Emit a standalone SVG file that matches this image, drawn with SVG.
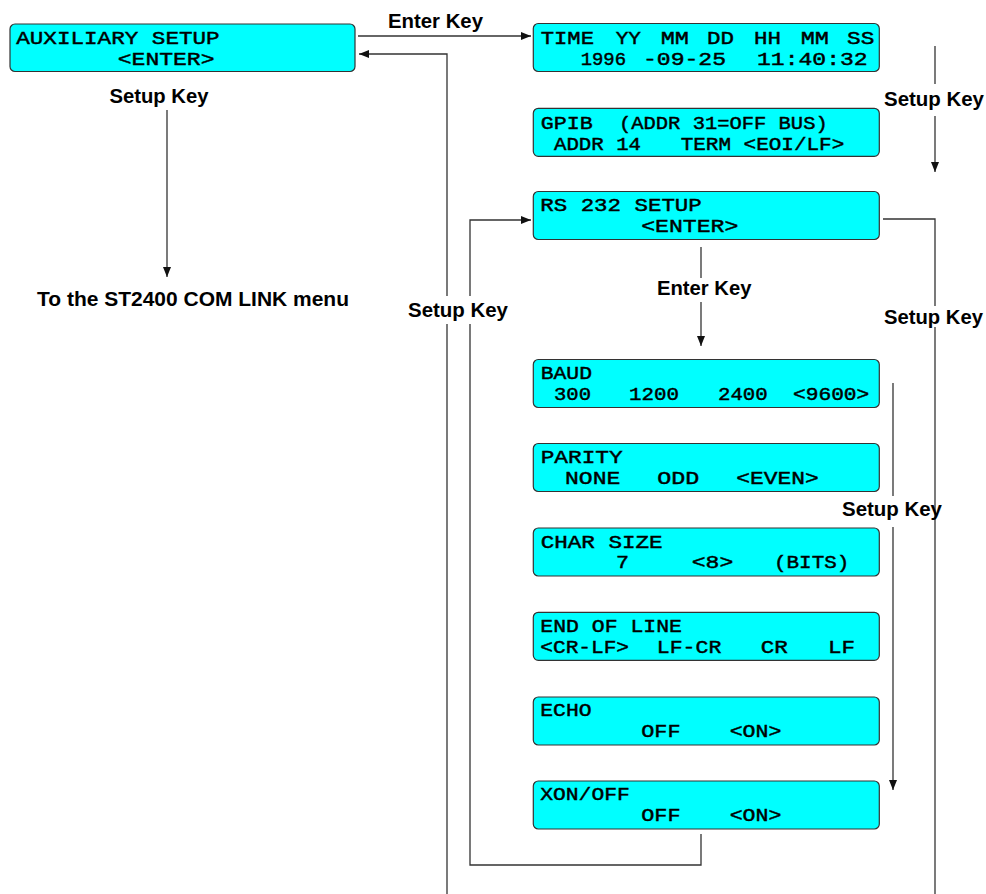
<svg xmlns="http://www.w3.org/2000/svg" width="986" height="894" viewBox="0 0 986 894">
<style>
.box{fill:#00ffff;stroke:#333;stroke-width:1.2}
.m{font-family:"Liberation Mono","Courier New",monospace;font-weight:normal;font-size:18.5px;fill:#000;stroke:#000;stroke-width:0.45}
.l{font-family:"Liberation Sans",Arial,sans-serif;font-weight:bold;font-size:20px;fill:#000}
.c{fill:none;stroke:#333;stroke-width:1.3}
</style>
<defs>
<marker id="ah" markerUnits="userSpaceOnUse" markerWidth="11" markerHeight="9" refX="10" refY="4" orient="auto">
<path d="M0,0 L10,4 L0,8 z" fill="#111"/>
</marker>
</defs>
<rect width="986" height="894" fill="#fff"/>
<g id="connectors">
<path class="c" d="M358,36 H531" marker-end="url(#ah)"/>
<path class="c" d="M447,894 V324"/>
<path class="c" d="M447,296 V54 H359" marker-end="url(#ah)"/>
<path class="c" d="M470,324 V865 H701 V834"/>
<path class="c" d="M470,296 V220 H531" marker-end="url(#ah)"/>
<path class="c" d="M167,110 V277" marker-end="url(#ah)"/>
<path class="c" d="M935,46 V84"/>
<path class="c" d="M935,116 V172" marker-end="url(#ah)"/>
<path class="c" d="M883,219 H935 V306"/>
<path class="c" d="M935,327 V894"/>
<path class="c" d="M701,247 V278"/>
<path class="c" d="M701,302 V346" marker-end="url(#ah)"/>
<path class="c" d="M893,383 V496"/>
<path class="c" d="M893,527 V790" marker-end="url(#ah)"/>
</g>
<g id="labels">
<text class="l" x="388" y="28" textLength="95" lengthAdjust="spacingAndGlyphs">Enter Key</text>
<text class="l" x="109.5" y="103" textLength="99" lengthAdjust="spacingAndGlyphs">Setup Key</text>
<text class="l" x="37" y="306" textLength="312" lengthAdjust="spacingAndGlyphs">To the ST2400 COM LINK menu</text>
<text class="l" x="884" y="106" textLength="100" lengthAdjust="spacingAndGlyphs">Setup Key</text>
<text class="l" x="408" y="317" textLength="100" lengthAdjust="spacingAndGlyphs">Setup Key</text>
<text class="l" x="657" y="295" textLength="94.5" lengthAdjust="spacingAndGlyphs">Enter Key</text>
<text class="l" x="884" y="324" textLength="99" lengthAdjust="spacingAndGlyphs">Setup Key</text>
<text class="l" x="842" y="516" textLength="100" lengthAdjust="spacingAndGlyphs">Setup Key</text>
</g>
<g id="aux">
<rect class="box" x="10" y="24" width="345" height="47.5" rx="5"/>
<text class="m" x="16.2" y="43.5" textLength="203.5" lengthAdjust="spacingAndGlyphs">AUXILIARY SETUP</text>
<text class="m" x="117.8" y="64.5" textLength="96.7" lengthAdjust="spacingAndGlyphs">&lt;ENTER&gt;</text>
</g>
<g id="time">
<rect class="box" x="533.3" y="23.5" width="346" height="48" rx="5"/>
<text class="m" x="540.7" y="44" textLength="53.3" lengthAdjust="spacingAndGlyphs">TIME</text>
<text class="m" x="615.7" y="44" textLength="25.3" lengthAdjust="spacingAndGlyphs">YY</text>
<text class="m" x="660.7" y="44" textLength="28.3" lengthAdjust="spacingAndGlyphs">MM</text>
<text class="m" x="707" y="44" textLength="27" lengthAdjust="spacingAndGlyphs">DD</text>
<text class="m" x="754" y="44" textLength="27" lengthAdjust="spacingAndGlyphs">HH</text>
<text class="m" x="800.7" y="44" textLength="28.3" lengthAdjust="spacingAndGlyphs">MM</text>
<text class="m" x="847" y="44" textLength="27.3" lengthAdjust="spacingAndGlyphs">SS</text>
<text class="m" x="580.7" y="65" textLength="45.3" lengthAdjust="spacingAndGlyphs">1996</text>
<text class="m" x="643" y="65" textLength="83" lengthAdjust="spacingAndGlyphs">-09-25</text>
<text class="m" x="757" y="65" textLength="110.7" lengthAdjust="spacingAndGlyphs">11:40:32</text>
</g>
<g id="gpib">
<rect class="box" x="533.3" y="108.3" width="346" height="48" rx="5"/>
<text class="m" x="540.7" y="129" textLength="52" lengthAdjust="spacingAndGlyphs">GPIB</text>
<text class="m" x="619" y="129" textLength="208.7" lengthAdjust="spacingAndGlyphs">(ADDR 31=OFF BUS)</text>
<text class="m" x="554" y="149.5" textLength="87" lengthAdjust="spacingAndGlyphs">ADDR 14</text>
<text class="m" x="680.7" y="149.5" textLength="163.6" lengthAdjust="spacingAndGlyphs">TERM &lt;EOI/LF&gt;</text>
</g>
<g id="rs232">
<rect class="box" x="533.3" y="191.5" width="346" height="48" rx="5"/>
<text class="m" x="540.3" y="211.3" textLength="161.5" lengthAdjust="spacingAndGlyphs">RS 232 SETUP</text>
<text class="m" x="641.2" y="231.7" textLength="97.2" lengthAdjust="spacingAndGlyphs">&lt;ENTER&gt;</text>
</g>
<g id="baud">
<rect class="box" x="533.3" y="359.5" width="346" height="48" rx="5"/>
<text class="m" x="540.7" y="379.3" textLength="51.3" lengthAdjust="spacingAndGlyphs">BAUD</text>
<text class="m" x="554" y="400" textLength="37" lengthAdjust="spacingAndGlyphs">300</text>
<text class="m" x="629" y="400" textLength="50" lengthAdjust="spacingAndGlyphs">1200</text>
<text class="m" x="718" y="400" textLength="49.7" lengthAdjust="spacingAndGlyphs">2400</text>
<text class="m" x="793" y="400" textLength="76.3" lengthAdjust="spacingAndGlyphs">&lt;9600&gt;</text>
</g>
<g id="parity">
<rect class="box" x="533.3" y="443.5" width="346" height="48" rx="5"/>
<text class="m" x="540.7" y="463.3" textLength="82" lengthAdjust="spacingAndGlyphs">PARITY</text>
<text class="m" x="565" y="484" textLength="55.3" lengthAdjust="spacingAndGlyphs">NONE</text>
<text class="m" x="657.3" y="484" textLength="42" lengthAdjust="spacingAndGlyphs">ODD</text>
<text class="m" x="736.3" y="484" textLength="82.4" lengthAdjust="spacingAndGlyphs">&lt;EVEN&gt;</text>
</g>
<g id="charsize">
<rect class="box" x="533.3" y="528" width="346" height="48" rx="5"/>
<text class="m" x="540.7" y="547.7" textLength="122" lengthAdjust="spacingAndGlyphs">CHAR SIZE</text>
<text class="m" x="616" y="568.3" textLength="13" lengthAdjust="spacingAndGlyphs">7</text>
<text class="m" x="691.7" y="568.3" textLength="41.6" lengthAdjust="spacingAndGlyphs">&lt;8&gt;</text>
<text class="m" x="774" y="568.3" textLength="75.3" lengthAdjust="spacingAndGlyphs">(BITS)</text>
</g>
<g id="eol">
<rect class="box" x="533.3" y="612.3" width="346" height="48" rx="5"/>
<text class="m" x="540.3" y="631.7" textLength="141.7" lengthAdjust="spacingAndGlyphs">END OF LINE</text>
<text class="m" x="540.3" y="652.7" textLength="88.7" lengthAdjust="spacingAndGlyphs">&lt;CR-LF&gt;</text>
<text class="m" x="656.8" y="652.7" textLength="64.5" lengthAdjust="spacingAndGlyphs">LF-CR</text>
<text class="m" x="760.7" y="652.7" textLength="27.1" lengthAdjust="spacingAndGlyphs">CR</text>
<text class="m" x="828" y="652.7" textLength="27" lengthAdjust="spacingAndGlyphs">LF</text>
</g>
<g id="echo">
<rect class="box" x="533.3" y="697" width="346" height="48" rx="5"/>
<text class="m" x="540.3" y="716" textLength="51.3" lengthAdjust="spacingAndGlyphs">ECHO</text>
<text class="m" x="641.2" y="736.7" textLength="39.3" lengthAdjust="spacingAndGlyphs">OFF</text>
<text class="m" x="729.7" y="736.7" textLength="51.7" lengthAdjust="spacingAndGlyphs">&lt;ON&gt;</text>
</g>
<g id="xonoff">
<rect class="box" x="533.3" y="781" width="346" height="48" rx="5"/>
<text class="m" x="540.3" y="800" textLength="89.4" lengthAdjust="spacingAndGlyphs">XON/OFF</text>
<text class="m" x="641.2" y="820.7" textLength="39.3" lengthAdjust="spacingAndGlyphs">OFF</text>
<text class="m" x="729.7" y="820.7" textLength="51.7" lengthAdjust="spacingAndGlyphs">&lt;ON&gt;</text>
</g>
</svg>
